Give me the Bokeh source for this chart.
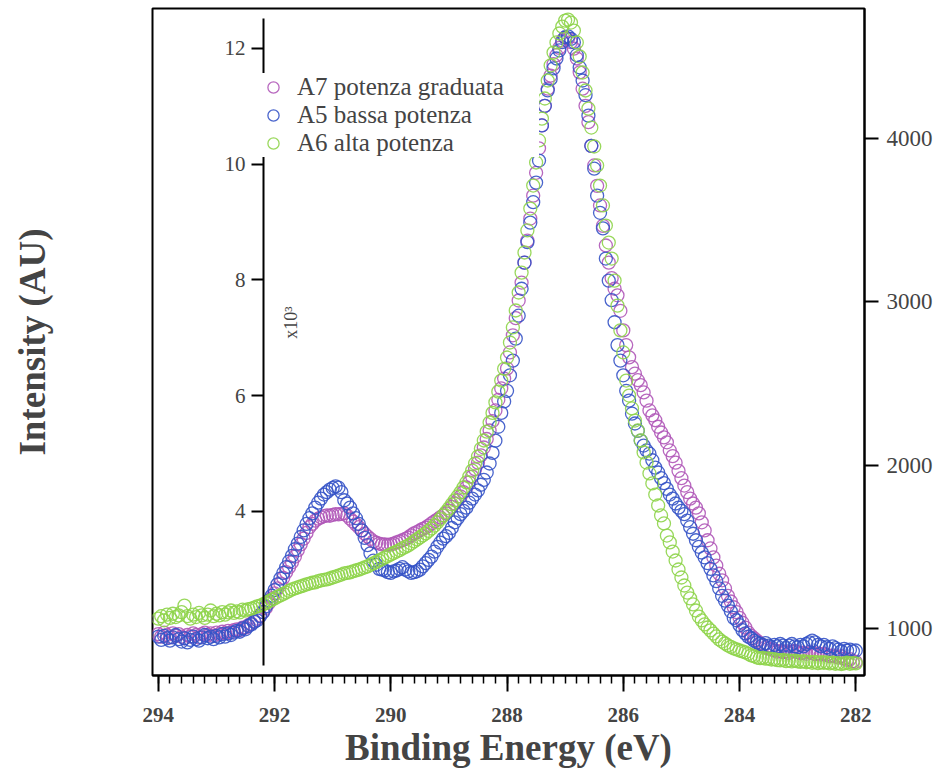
import math
import numpy as np
from bokeh.plotting import figure
from bokeh.models import (Range1d, LinearAxis, FixedTicker, Legend, LegendItem,
                          Label, ColumnDataSource)
from bokeh.embed import file_html
from bokeh.resources import INLINE

# ---------------- data ----------------
# binding-energy grid of the measurement: 294.00 eV -> 282.00 eV, 0.05 eV step
energy = np.round(np.linspace(294.0, 282.0, 241), 2)

a7_potenza_graduata = [
    965, 950, 975, 960, 945, 970, 955, 965, 950, 940,
    960, 950, 970, 960, 945, 965, 975, 960, 970, 955,
    975, 965, 980, 970, 985, 975, 990, 995, 990, 1005,
    1005, 1020, 1030, 1045, 1060, 1080, 1100, 1125, 1155, 1185,
    1215, 1245, 1275, 1310, 1345, 1375, 1405, 1440, 1480, 1515,
    1550, 1585, 1620, 1640, 1660, 1672, 1680, 1688, 1692, 1690,
    1695, 1700, 1698, 1702, 1705, 1690, 1672, 1655, 1637, 1620,
    1600, 1580, 1563, 1548, 1533, 1525, 1520, 1515, 1514, 1512,
    1515, 1520, 1527, 1533, 1540, 1548, 1557, 1570, 1582, 1590,
    1600, 1610, 1618, 1630, 1643, 1655, 1667, 1680, 1692, 1705,
    1722, 1745, 1765, 1785, 1808, 1835, 1863, 1895, 1930, 1975,
    2015, 2060, 2108, 2160, 2212, 2270, 2335, 2400, 2470, 2530,
    2592, 2690, 2795, 2900, 3008, 3118, 3240, 3375, 3510, 3650,
    3790, 3940, 4080, 4200, 4305, 4385, 4455, 4510, 4555, 4600,
    4618, 4612, 4590, 4550, 4490, 4405, 4305, 4200, 4100, 3955,
    3835, 3710, 3590, 3465, 3345, 3240, 3145, 3080, 3040, 2945,
    2825, 2735, 2660, 2600, 2560, 2520, 2490, 2445, 2395, 2335,
    2305, 2275, 2235, 2200, 2170, 2140, 2090, 2055, 2015, 1965,
    1920, 1875, 1835, 1795, 1765, 1740, 1705, 1650, 1600, 1540,
    1490, 1435, 1385, 1335, 1295, 1245, 1200, 1165, 1130, 1100,
    1065, 1035, 1005, 975, 955, 940, 925, 910, 895, 885,
    878, 870, 865, 858, 862, 855, 860, 850, 858, 862,
    855, 848, 852, 845, 855, 850, 842, 848, 840, 846,
    838, 830, 835, 828, 822, 830, 815, 808, 812, 800,
    795,
]

a5_bassa_potenza = [
    950, 930, 955, 940, 925, 945, 960, 935, 920, 940,
    915, 930, 950, 935, 925, 945, 960, 940, 950, 935,
    955, 945, 965, 950, 970, 960, 975, 985, 980, 1000,
    995, 1015, 1025, 1040, 1050, 1075, 1100, 1135, 1170, 1200,
    1235, 1270, 1305, 1340, 1375, 1410, 1445, 1485, 1520, 1560,
    1600, 1640, 1675, 1705, 1740, 1770, 1795, 1820, 1835, 1850,
    1860, 1870, 1862, 1835, 1785, 1765, 1740, 1705, 1675, 1640,
    1600, 1555, 1510, 1460, 1415, 1390, 1365, 1360, 1355, 1345,
    1340, 1350, 1355, 1365, 1375, 1360, 1350, 1340, 1345, 1350,
    1360, 1380, 1400, 1420, 1440, 1470, 1500, 1525, 1550, 1565,
    1585, 1615, 1650, 1675, 1700, 1720, 1740, 1770, 1795, 1820,
    1845, 1880, 1910, 1955, 2010, 2075, 2150, 2235, 2320, 2390,
    2455, 2550, 2640, 2775, 2915, 3080, 3240, 3365, 3485, 3610,
    3730, 3865, 4080, 4200, 4295, 4365, 4430, 4490, 4540, 4590,
    4620, 4625, 4610, 4590, 4510, 4435, 4355, 4265, 4140, 3955,
    3815, 3650, 3545, 3450, 3265, 3130, 3010, 2875, 2735, 2640,
    2550, 2455, 2395, 2315, 2255, 2210, 2150, 2120, 2090, 2070,
    2030, 1985, 1955, 1920, 1890, 1855, 1820, 1795, 1765, 1740,
    1720, 1700, 1660, 1620, 1580, 1540, 1500, 1465, 1435, 1400,
    1365, 1325, 1290, 1245, 1200, 1170, 1140, 1105, 1065, 1050,
    1020, 990, 970, 950, 940, 925, 915, 905, 900, 910,
    895, 885, 900, 890, 905, 895, 880, 895, 905, 890,
    885, 900, 890, 905, 915, 925, 915, 900, 890, 900,
    885, 875, 890, 880, 870, 860, 875, 865, 870, 860,
    865,
]

a6_alta_potenza = [
    1060, 1075, 1050, 1085, 1065, 1090, 1070, 1080, 1100, 1140,
    1075, 1060, 1085, 1070, 1095, 1080, 1065, 1085, 1110, 1075,
    1090, 1080, 1100, 1085, 1098, 1110, 1095, 1105, 1098, 1115,
    1110, 1118, 1122, 1128, 1135, 1140, 1147, 1155, 1165, 1175,
    1184, 1195, 1202, 1212, 1220, 1230, 1239, 1245, 1251, 1258,
    1263, 1270, 1275, 1280, 1282, 1290, 1294, 1298, 1300, 1306,
    1312, 1318, 1324, 1330, 1337, 1340, 1343, 1350, 1355, 1360,
    1367, 1374, 1380, 1390, 1398, 1407, 1416, 1425, 1435, 1444,
    1453, 1462, 1471, 1480, 1490, 1499, 1508, 1520, 1533, 1545,
    1557, 1570, 1582, 1597, 1612, 1630, 1649, 1670, 1692, 1713,
    1735, 1760, 1784, 1808, 1833, 1863, 1894, 1930, 1967, 2010,
    2053, 2100, 2151, 2205, 2261, 2320, 2384, 2450, 2518, 2590,
    2659, 2751, 2843, 2947, 3057, 3179, 3302, 3437, 3571, 3712,
    3853, 3988, 4122, 4245, 4355, 4447, 4526, 4588, 4643, 4685,
    4722, 4728, 4710, 4661, 4588, 4502, 4404, 4294, 4183, 4067,
    3951, 3835, 3712, 3590, 3467, 3363, 3265, 3130, 2977, 2825,
    2690, 2518, 2426, 2347, 2273, 2212, 2151, 2078, 2016, 1949,
    1888, 1820, 1753, 1692, 1643, 1569, 1527, 1471, 1416, 1361,
    1312, 1263, 1220, 1184, 1147, 1110, 1073, 1049, 1025, 1006,
    988, 969, 951, 933, 920, 908, 896, 887, 878, 872,
    865, 860, 853, 845, 835, 830, 822, 818, 820, 815,
    816, 810, 812, 806, 804, 808, 800, 805, 798, 803,
    798, 795, 800, 793, 797, 790, 795, 788, 793, 790,
    792, 786, 790, 784, 788, 782, 786, 790, 784, 788,
    786,
]

series_labels = ["A7 potenza graduata", "A5 bassa potenza", "A6 alta potenza"]
series_colors = ["#b058b8", "#3553c6", "#8ed44a"]

x_major_ticks = [294, 292, 290, 288, 286, 284, 282]
x_minor_ticks = [round(282 + 0.2 * k, 1) for k in range(61)]
right_ticks = [1000, 2000, 3000, 4000]
left_ticks = [4, 6, 8, 10, 12]

x_title = "Binding Energy (eV)"
y_title = "Intensity (AU)"
left_scale_label = "x10\u00b3"

SERIF = "Liberation Serif"

# ---------------- figure ----------------
p = figure(frame_width=712, frame_height=667,
           x_range=Range1d(294.1, 281.85), y_range=Range1d(712, 4796),
           y_axis_location="right",
           output_backend="svg", toolbar_location=None,
           min_border_left=152, min_border_right=70,
           min_border_top=8, min_border_bottom=95)
p.background_fill_color = "white"
p.border_fill_color = "white"
p.xgrid.visible = False
p.ygrid.visible = False
p.outline_line_color = "black"
p.outline_line_width = 2

# bottom axis
xa = p.xaxis[0]
xa.ticker = FixedTicker(ticks=x_major_ticks, minor_ticks=x_minor_ticks)
xa.axis_line_width = 2
xa.major_tick_out = 16
xa.major_tick_in = 0
xa.minor_tick_out = 8
xa.minor_tick_in = 0
xa.major_tick_line_width = 2
xa.minor_tick_line_width = 1.5
xa.major_label_text_font = SERIF
xa.major_label_text_font_size = "21px"
xa.major_label_text_font_style = "bold"
xa.major_label_standoff = 16
xa.axis_label = x_title
xa.axis_label_text_font = SERIF
xa.axis_label_text_font_size = "37px"
xa.axis_label_text_font_style = "bold"
xa.axis_label_standoff = 2

# right axis (counts)
ya = p.yaxis[0]
ya.ticker = FixedTicker(ticks=right_ticks)
ya.axis_line_width = 2
ya.major_tick_out = 14
ya.major_tick_in = 0
ya.minor_tick_out = 0
ya.minor_tick_in = 0
ya.major_tick_line_width = 2
ya.major_label_text_font = SERIF
ya.major_label_text_font_size = "23px"
ya.major_label_standoff = 8

# left free-standing axis (x10^3)
p.extra_y_ranges = {"k": Range1d(1.166, 12.691)}
kax = LinearAxis(y_range_name="k", fixed_location=292.19,
                 ticker=FixedTicker(ticks=left_ticks), bounds=(1.34, 12.52))
kax.axis_line_width = 2
kax.major_tick_out = 12
kax.major_tick_in = 0
kax.minor_tick_out = 0
kax.minor_tick_in = 0
kax.major_tick_line_width = 2
kax.major_label_text_font = SERIF
kax.major_label_text_font_size = "21px"
kax.major_label_standoff = 6
p.add_layout(kax, "left")

# left-hand title: carried by a tick-less, line-less axis at the frame's left side
tax = LinearAxis(ticker=FixedTicker(ticks=[]), axis_label=y_title)
tax.axis_line_color = None
tax.major_tick_line_color = None
tax.minor_tick_line_color = None
tax.major_tick_out = 0
tax.major_tick_in = 0
tax.minor_tick_out = 0
tax.minor_tick_in = 0
tax.major_label_standoff = 0
tax.axis_label_standoff = 100
tax.axis_label_text_font = SERIF
tax.axis_label_text_font_size = "37px"
tax.axis_label_text_font_style = "bold"
p.add_layout(tax, "left")

# data
renderers = []
for vals, col in zip([a7_potenza_graduata, a5_bassa_potenza, a6_alta_potenza], series_colors):
    src = ColumnDataSource(dict(x=energy, y=vals))
    r = p.scatter("x", "y", source=src, marker="circle", size=13,
                  fill_color=None, line_color=col, line_width=1.3, line_alpha=0.9)
    renderers.append(r)

legend = Legend(items=[LegendItem(label=lab, renderers=[r]) for lab, r in zip(series_labels, renderers)],
                location=(104, 518), orientation="vertical",
                padding=0, spacing=0, margin=0,
                glyph_width=34, glyph_height=28, label_standoff=7,
                label_width=242, label_height=28,
                label_text_font=SERIF, label_text_font_size="25px",
                label_text_baseline="middle",
                border_line_color=None,
                background_fill_color="white", background_fill_alpha=1.0)
p.add_layout(legend)

p.add_layout(Label(x=291.72, y=2873, text=left_scale_label,
                   angle=math.pi / 2, text_align="center", text_baseline="middle",
                   text_font=SERIF, text_font_size="18px"))

open("out.html", "w").write(file_html(p, INLINE))
